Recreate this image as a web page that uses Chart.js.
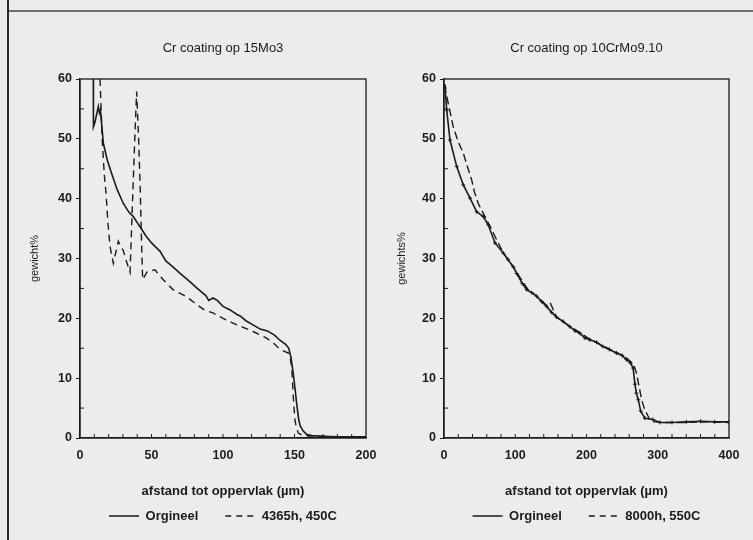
<!DOCTYPE html>
<html>
<head>
<meta charset="utf-8">
<script src="https://cdn.jsdelivr.net/npm/chart.js@4.4.1/dist/chart.umd.min.js"></script>
<style>
  html, body { margin: 0; padding: 0; background: #ececea; }
  #wrap { position: relative; width: 753px; height: 540px; overflow: hidden; }
  #edgeTop { position: absolute; left: 7px; top: 10px; width: 746px; height: 2px; background: #6e6e6e; }
  #edgeLeft { position: absolute; left: 7px; top: 0; width: 2px; height: 540px; background: #2a2a2a; }
  .pane { position: absolute; top: 0; }
  #left { left: 0; }
  #right { left: 376px; }
</style>
</head>
<body>
<div id="wrap">
  <div id="edgeTop"></div>
  <div id="edgeLeft"></div>
  <div class="pane" id="left"><canvas id="chartLeft" width="387" height="540"></canvas></div>
  <div class="pane" id="right"><canvas id="chartRight" width="377" height="540"></canvas></div>
</div>
<script>
// Cr profiles

const leftTitle = 'Cr coating op 15Mo3';
const rightTitle = 'Cr coating op 10CrMo9.10';
const xTitle = 'afstand tot oppervlak (\u00b5m)';

const yTickValues = [0, 10, 20, 30, 40, 50, 60];
const leftXTickValues = [0, 50, 100, 150, 200];
const rightXTickValues = [0, 100, 200, 300, 400];

// left: 15Mo3
const leftOrigX = [9.3, 9.4, 10.5, 12, 12.8, 13.6, 14.3, 16.3, 19, 22, 26, 30.3, 34, 37.3, 40, 42, 46, 50, 56, 60, 65, 70, 77, 82, 88, 90, 93, 96, 100, 105, 110, 112, 116, 121, 126, 131, 136, 140, 144, 146, 147.5, 149, 150.5, 151.5, 153, 154, 156, 158.5, 162, 170, 180, 190, 200];
const leftOrigY = [60, 52, 52.8, 54.5, 55.4, 54.3, 54.8, 49.3, 46.5, 44.3, 41.5, 39.2, 37.8, 37, 36, 35.3, 33.8, 32.6, 31.2, 29.6, 28.6, 27.5, 26.1, 25, 23.8, 23, 23.4, 23, 22, 21.4, 20.6, 20.4, 19.6, 18.9, 18.2, 17.9, 17.2, 16.3, 15.6, 15, 13.5, 11, 8, 5.8, 3, 2, 1.2, 0.6, 0.4, 0.3, 0.2, 0.2, 0.2];

const leftAgedX = [14, 15.5, 17, 18.2, 19.5, 21, 23.3, 25, 26.8, 28.5, 30.3, 32.5, 35, 36.5, 38, 39.6, 41, 42.2, 43, 43.8, 47, 52.4, 58, 65, 74.6, 80, 87, 93, 100, 107, 114, 121, 130.5, 136, 140, 145.7, 147, 148, 148.6, 149, 149.7, 150.3, 151.5, 152.7, 156, 165, 180, 200];
const leftAgedY = [60, 50, 44, 40.9, 36, 32, 29.2, 31, 32.9, 32, 31.3, 29.5, 27.7, 38, 48, 57.9, 50, 41, 33, 26.5, 27.8, 28.1, 26.5, 24.8, 23.6, 22.6, 21.4, 20.9, 20, 19.2, 18.5, 17.8, 16.7, 15.7, 14.8, 14.2, 13.3, 12, 9.5, 7.5, 5, 3, 1.6, 0.8, 0.4, 0.3, 0.2, 0.2];

// right: 10CrMo9.10
const rightOrigX = [0, 1.4, 3.8, 8.4, 17.8, 27.1, 36.5, 45.9, 55.2, 62.2, 71.6, 83.2, 90, 97.3, 102, 110, 116, 123, 130, 137, 144, 151, 158, 167, 176.6, 184, 190.7, 198, 204.7, 214, 223, 232, 242, 250, 256, 262, 265.4, 268, 270, 272.7, 276, 282, 293, 303, 320, 340, 360, 380, 400];
const rightOrigY = [59, 58.5, 54.8, 49.8, 45.4, 42.3, 40.1, 37.8, 37, 35.6, 32.6, 30.9, 29.8, 28.6, 27.5, 25.8, 24.8, 24.3, 23.7, 22.8, 22, 21, 20.2, 19.5, 18.6, 17.9, 17.5, 16.7, 16.4, 16, 15.3, 14.8, 14.2, 13.8, 13.1, 12.5, 11.7, 9, 7.5, 6.4, 4.5, 3.3, 3.1, 2.6, 2.6, 2.7, 2.8, 2.7, 2.7];

const rightAgedX = [0, 1.4, 6, 13, 20, 27.1, 33, 38.9, 43, 48.1, 57.5, 65, 74, 83, 97, 110, 118, 130, 144, 149, 158, 176, 191, 205, 223, 242, 256, 266, 270, 274, 277.4, 281, 284.5, 289, 295, 310, 340, 370, 400];
const rightAgedY = [59, 58.7, 55.9, 52, 49.5, 47.6, 45.3, 43.1, 41, 39.2, 37, 35.3, 33.1, 31, 28.6, 26.2, 24.8, 23.7, 22.2, 22.6, 20.2, 18.7, 17.6, 16.5, 15.4, 14.3, 13.4, 12.3, 10.9, 8.5, 6.4, 5, 4.1, 3, 2.7, 2.6, 2.6, 2.7, 2.6];

const ink = '#1b1b1b';
Chart.defaults.font.family = '"Liberation Sans", Arial, sans-serif';
Chart.defaults.color = ink;

function toPoints(xs, ys) {
  return xs.map((x, i) => ({ x: x, y: ys[i] }));
}

// plot frame plus the small inward tick marks
const frameTicks = {
  id: 'frameTicks',
  afterDatasetsDraw(chart, args, opts) {
    const { ctx, chartArea: a } = chart;
    const x = chart.scales.x, y = chart.scales.y;
    ctx.save();
    ctx.strokeStyle = ink;
    ctx.lineWidth = 1.3;
    ctx.strokeRect(a.left, a.top, a.right - a.left, a.bottom - a.top);
    ctx.lineWidth = 1;
    ctx.beginPath();
    for (let v = opts.yMinor; v < y.max; v += 2 * opts.yMinor) {
      const py = y.getPixelForValue(v);
      ctx.moveTo(a.left, py);
      ctx.lineTo(a.left + 4, py);
    }
    for (let v = opts.xMinor; v < x.max; v += opts.xMinor) {
      const px = x.getPixelForValue(v);
      ctx.moveTo(px, a.bottom);
      ctx.lineTo(px, a.bottom - 4);
    }
    ctx.stroke();
    ctx.restore();
  }
};

// legend samples: plain line / dashed line, black
function legendItems(chart) {
  return chart.data.datasets.map((ds, i) => ({
    text: ds.label,
    strokeStyle: ink,
    fillStyle: 'rgba(0,0,0,0)',
    fontColor: ink,
    lineWidth: 1.5,
    lineDash: ds.borderDash ? [6, 5] : [],
    pointStyle: 'line',
    datasetIndex: i,
    hidden: false
  }));
}

function makeChart(canvasId, o) {
  const ctx = document.getElementById(canvasId).getContext('2d');
  return new Chart(ctx, {
    type: 'line',
    data: {
      datasets: [{
        label: 'Orgineel',
        data: toPoints(o.origX, o.origY),
        borderColor: ink,
        backgroundColor: ink,
        borderWidth: 1.6,
        pointRadius: o.markers ? 2 : 0,
        pointStyle: 'cross',
        pointBorderWidth: 1,
        fill: false,
        tension: 0
      }, {
        label: o.agedLabel,
        data: toPoints(o.agedX, o.agedY),
        borderColor: ink,
        backgroundColor: ink,
        borderWidth: 1.4,
        borderDash: o.dash,
        pointRadius: 0,
        fill: false,
        tension: 0
      }]
    },
    options: {
      responsive: false,
      animation: false,
      layout: { padding: { top: 0, left: 0, right: o.padRight, bottom: 7.5 } },
      scales: {
        x: {
          type: 'linear',
          min: 0,
          max: o.xMax,
          afterBuildTicks: s => { s.ticks = o.xTicks.map(v => ({ value: v })); },
          afterFit: s => { s.height = 44.5; },
          grid: { display: true, drawOnChartArea: false, drawTicks: false, color: ink },
          border: { display: true, color: ink, width: 1.3 },
          ticks: { padding: 10, color: ink, font: { size: 12.5, weight: 'bold' } },
          title: { display: true, text: xTitle, color: ink, font: { size: 13, weight: 'bold' }, padding: { top: 0, bottom: -16.3 } }
        },
        y: {
          type: 'linear',
          min: 0,
          max: 60,
          afterBuildTicks: s => { s.ticks = yTickValues.map(v => ({ value: v })); },
          afterFit: s => { s.width = o.yWidth; },
          grid: { display: true, drawOnChartArea: false, drawTicks: true, tickLength: 4, color: ink },
          border: { display: true, color: ink, width: 1.3 },
          ticks: { padding: 4, color: ink, font: { size: 12.5, weight: 'bold' } },
          title: { display: true, text: o.yTitle, color: ink, font: { size: 11 }, padding: { top: o.yTitlePad, bottom: 0 } }
        }
      },
      plugins: {
        title: {
          display: true,
          text: o.title,
          fullSize: false,
          color: ink,
          font: { size: 13, weight: 'normal' },
          padding: { top: 40.2, bottom: 23.2 }
        },
        legend: {
          position: 'bottom',
          fullSize: false,
          labels: {
            usePointStyle: true,
            pointStyle: 'line',
            pointStyleWidth: 30,
            padding: 27,
            color: ink,
            font: { size: 13, weight: 'bold' },
            generateLabels: legendItems
          }
        },
        tooltip: { enabled: false },
        frameTicks: { xMinor: o.xMinor, yMinor: 5 }
      }
    },
    plugins: [frameTicks]
  });
}

makeChart('chartLeft', {
  title: leftTitle,
  yTitle: 'gewicht%',
  agedLabel: '4365h, 450C',
  origX: leftOrigX, origY: leftOrigY,
  agedX: leftAgedX, agedY: leftAgedY,
  dash: [7, 5],
  markers: false,
  xMax: 200,
  xTicks: leftXTickValues,
  xMinor: 10,
  padRight: 21,
  yWidth: 80,
  yTitlePad: 28.4
});

makeChart('chartRight', {
  title: rightTitle,
  yTitle: 'gewichts%',
  agedLabel: '8000h, 550C',
  origX: rightOrigX, origY: rightOrigY,
  agedX: rightAgedX, agedY: rightAgedY,
  dash: [8, 4],
  markers: true,
  xMax: 400,
  xTicks: rightXTickValues,
  xMinor: 20,
  padRight: 24,
  yWidth: 68,
  yTitlePad: 19.4
});
</script>
</body>
</html>
